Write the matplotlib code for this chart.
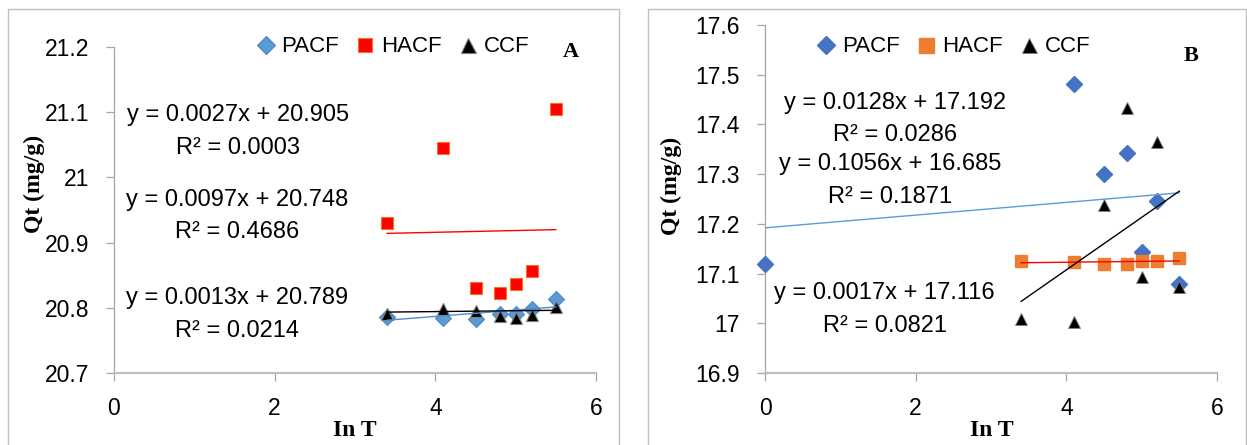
import matplotlib.pyplot as plt
from matplotlib.patches import Rectangle

plt.rcParams['font.family'] = ['Liberation Sans', 'DejaVu Sans']

# ln T values
ln_t = [3.4, 4.1, 4.5, 4.8, 5.0, 5.2, 5.5]

# panel A
a_pacf = [20.786, 20.785, 20.783, 20.790, 20.790, 20.798, 20.813]
a_hacf = [20.930, 21.045, 20.831, 20.822, 20.837, 20.857, 21.105]
a_ccf = [20.790, 20.798, 20.795, 20.788, 20.784, 20.789, 20.801]
a_slope = {'PACF': 0.0097, 'HACF': 0.0027, 'CCF': 0.0013}
a_icept = {'PACF': 20.748, 'HACF': 20.905, 'CCF': 20.789}
a_r2 = {'PACF': 0.4686, 'HACF': 0.0003, 'CCF': 0.0214}

# panel B
b_pacf_x = [0.0, 4.1, 4.5, 4.8, 5.0, 5.2, 5.5]
b_pacf = [17.120, 17.481, 17.300, 17.342, 17.144, 17.246, 17.079]
b_hacf = [17.125, 17.124, 17.119, 17.119, 17.126, 17.125, 17.131]
b_ccf = [17.008, 17.002, 17.237, 17.433, 17.093, 17.365, 17.073]
b_slope = {'PACF': 0.0128, 'HACF': 0.0017, 'CCF': 0.1056}
b_icept = {'PACF': 17.192, 'HACF': 17.116, 'CCF': 16.685}
b_r2 = {'PACF': 0.0286, 'HACF': 0.0821, 'CCF': 0.1871}

W, H = 1247, 445
fig = plt.figure(figsize=(W / 100, H / 100), dpi=100)

# chart area borders
fig.patches.append(Rectangle((8 / W, -0.1), (619 - 8) / W, 1.1 - 9 / H,
                             transform=fig.transFigure, fill=False,
                             ec='#BFBFBF', lw=1))
fig.patches.append(Rectangle((648 / W, -0.1), (1246 - 648) / W, 1.1 - 9 / H,
                             transform=fig.transFigure, fill=False,
                             ec='#BFBFBF', lw=1))

axA = fig.add_axes([114 / W, 1 - 373 / H, (596 - 114) / W, (373 - 47) / H])
axB = fig.add_axes([765 / W, 1 - 373 / H, (1217 - 765) / W, (373 - 25) / H])


def style(ax, ylo, yhi, yticks):
    ax.set_xlim(0, 6)
    ax.set_ylim(ylo, yhi)
    ax.set_xticks([0, 2, 4, 6])
    ax.set_yticks(yticks)
    ax.set_yticklabels([f"{round(v, 1):g}" for v in yticks])
    for s in ['top', 'right']:
        ax.spines[s].set_visible(False)
    ax.spines['left'].set_color('#A6A6A6')
    ax.spines['left'].set_linewidth(0.9)
    ax.spines['bottom'].set_color('#BFBFBF')
    ax.spines['bottom'].set_linewidth(1.6)
    ax.tick_params(axis='y', length=6, width=0.9, color='#A6A6A6',
                   labelsize=16.5, pad=12)
    ax.tick_params(axis='x', length=6, width=0.9, color='#A6A6A6',
                   labelsize=16.5, pad=11)
    ax.set_xlabel('In T', family='Liberation Serif', weight='bold', fontsize=17)
    ax.set_ylabel('Qt (mg/g)', family='Liberation Serif', weight='bold',
                  fontsize=17)


def trend(ax, xs, m, b, color):
    x0, x1 = min(xs), max(xs)
    ax.plot([x0, x1], [m * x0 + b, m * x1 + b], color=color, lw=1, zorder=5)


def eq_text(ax, m, b, r2, x, y1, y2):
    ax.text(x, y1, f"y = {m:.4f}x + {b:.3f}", transform=ax.transAxes,
            ha='center', va='center', fontsize=17)
    ax.text(x, y2, f"R\u00b2 = {r2:.4f}", transform=ax.transAxes,
            ha='center', va='center', fontsize=17)


def legend(ax, handles, x, y):
    ax.legend(handles=handles, loc='center', bbox_to_anchor=(x, y),
              ncol=3, frameon=False, fontsize=16, handlelength=0.8,
              handletextpad=0.3, columnspacing=0.8, borderpad=0,
              markerscale=1.2)


# ---- panel A ----
style(axA, 20.7, 21.2, [20.7, 20.8, 20.9, 21.0, 21.1, 21.2])
pA, = axA.plot(ln_t, a_pacf, 'D', ms=8, mfc='#5B9BD5', mec='#4A86C5',
               mew=0.8, label='PACF', clip_on=False, zorder=3)
hA, = axA.plot(ln_t, a_hacf, 's', ms=8.5, mfc='#FF0000', mec='#F4712B',
               mew=0.8, label='HACF', clip_on=False, zorder=3)
cA, = axA.plot(ln_t, a_ccf, '^', ms=9, mfc='#000000', mec='#7F7F7F',
               mew=0.8, label='CCF', clip_on=False, zorder=4)
trend(axA, ln_t, a_slope['PACF'], a_icept['PACF'], '#4F8CC9')
trend(axA, ln_t, a_slope['HACF'], a_icept['HACF'], '#FF0000')
trend(axA, ln_t, a_slope['CCF'], a_icept['CCF'], '#000000')
eq_text(axA, a_slope['HACF'], a_icept['HACF'], a_r2['HACF'], 0.257, 0.791, 0.690)
eq_text(axA, a_slope['PACF'], a_icept['PACF'], a_r2['PACF'], 0.256, 0.531, 0.433)
eq_text(axA, a_slope['CCF'], a_icept['CCF'], a_r2['CCF'], 0.256, 0.230, 0.129)
legend(axA, [pA, hA, cA], 0.579, 1.0)
axA.text(0.947, 0.985, 'A', transform=axA.transAxes, ha='center', va='center',
         family='Liberation Serif', weight='bold', fontsize=16)
axA.yaxis.set_label_coords(-0.143, 0.58)
axA.xaxis.set_label_coords(0.5, -0.145)

# ---- panel B ----
style(axB, 16.9, 17.6, [16.9, 17.0, 17.1, 17.2, 17.3, 17.4, 17.5, 17.6])
pB, = axB.plot(b_pacf_x, b_pacf, 'D', ms=8, mfc='#4472C4', mec='#4472C4',
               label='PACF', clip_on=False, zorder=3)
hB, = axB.plot(ln_t, b_hacf, 's', ms=9, mfc='#ED7D31', mec='#ED7D31',
               label='HACF', clip_on=False, zorder=3)
cB, = axB.plot(ln_t, b_ccf, '^', ms=9, mfc='#000000', mec='#7F7F7F',
               mew=0.6, label='CCF', clip_on=False, zorder=4)
trend(axB, b_pacf_x, b_slope['PACF'], b_icept['PACF'], '#5B9BD5')
trend(axB, ln_t, b_slope['HACF'], b_icept['HACF'], '#FF0000')
trend(axB, ln_t, b_slope['CCF'], b_icept['CCF'], '#000000')
eq_text(axB, b_slope['PACF'], b_icept['PACF'], b_r2['PACF'], 0.288, 0.776, 0.684)
eq_text(axB, b_slope['CCF'], b_icept['CCF'], b_r2['CCF'], 0.277, 0.601, 0.506)
eq_text(axB, b_slope['HACF'], b_icept['HACF'], b_r2['HACF'], 0.265, 0.230, 0.135)
legend(axB, [pB, hB, cB], 0.418, 0.937)
axB.text(0.942, 0.912, 'B', transform=axB.transAxes, ha='center', va='center',
         family='Liberation Serif', weight='bold', fontsize=16)
axB.yaxis.set_label_coords(-0.184, 0.537)
axB.xaxis.set_label_coords(0.502, -0.134)

fig.savefig('out.png', dpi=100)
